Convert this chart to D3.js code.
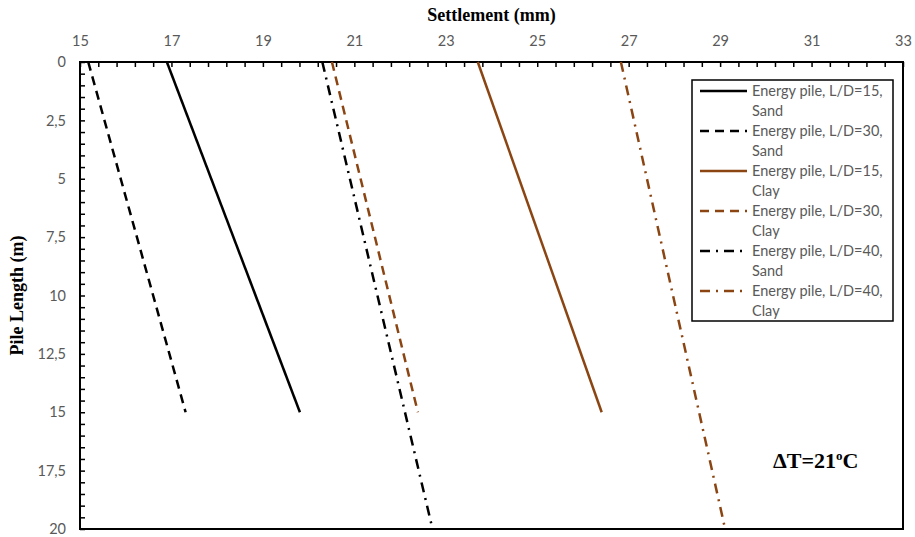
<!DOCTYPE html>
<html>
<head>
<meta charset="utf-8">
<script src="https://cdn.jsdelivr.net/npm/d3@7"></script>
<style>
  html, body { margin: 0; padding: 0; background: #fff; }
  svg { display: block; }
</style>
</head>
<body>
<svg id="chart" width="915" height="537"></svg>
<script>
// Settlement along the pile length for ΔT = 21 °C
const xTicks = [15, 17, 19, 21, 23, 25, 27, 29, 31, 33];
const yTicks = [0, 2.5, 5, 7.5, 10, 12.5, 15, 17.5, 20];
const yTickLabels = ["0", "2,5", "5", "7,5", "10", "12,5", "15", "17,5", "20"];

const seriesNames = [
  "Energy pile, L/D=15, Sand",
  "Energy pile, L/D=30, Sand",
  "Energy pile, L/D=15, Clay",
  "Energy pile, L/D=30, Clay",
  "Energy pile, L/D=40, Sand",
  "Energy pile, L/D=40, Clay"
];
// depth (m) of each series' points
const depthShort = [0, 15];
const depthLong = [0, 20];
// settlement (mm) at those depths
const sand15 = [16.90, 19.81];
const sand30 = [15.18, 17.31];
const clay15 = [23.70, 26.41];
const clay30 = [20.51, 22.39];
const sand40 = [20.30, 22.71];
const clay40 = [26.83, 29.11];

const black = "#000000", brown = "#8B4513";
const solid = null, dashed = "9,6", dashDot = "10,6,2,6";

const series = [
  { name: seriesNames[0], depth: depthShort, val: sand15, color: black, dash: solid },
  { name: seriesNames[1], depth: depthShort, val: sand30, color: black, dash: dashed },
  { name: seriesNames[2], depth: depthShort, val: clay15, color: brown, dash: solid },
  { name: seriesNames[3], depth: depthShort, val: clay30, color: brown, dash: dashed },
  { name: seriesNames[4], depth: depthLong,  val: sand40, color: black, dash: dashDot },
  { name: seriesNames[5], depth: depthLong,  val: clay40, color: brown, dash: dashDot }
];

const svg = d3.select("#chart");
const plot = { left: 80, right: 903, top: 62, bottom: 529 };

const x = d3.scaleLinear().domain([15, 33]).range([plot.left, plot.right]);
const y = d3.scaleLinear().domain([0, 20]).range([plot.top, plot.bottom]);

const tickFont = "Lato, 'Noto Sans', sans-serif";
const serif = "'Liberation Serif', 'Times New Roman', serif";
const gray = "#595959";

// minor ticks (inside the plot)
const xMinor = d3.range(15, 33.001, 0.4);
const yMinor = d3.range(0, 20.001, 0.5);

const gx = svg.append("g").attr("transform", `translate(0,${plot.top})`)
  .call(d3.axisTop(x).tickValues(xMinor).tickSize(-5).tickFormat(""));
gx.select(".domain").remove();
gx.selectAll("line").attr("stroke", "#000").attr("stroke-width", 1.5);

const gy = svg.append("g").attr("transform", `translate(${plot.left},0)`)
  .call(d3.axisLeft(y).tickValues(yMinor).tickSize(-5).tickFormat(""));
gy.select(".domain").remove();
gy.selectAll("line").attr("stroke", "#000").attr("stroke-width", 1.5);

// tick labels
const gxl = svg.append("g").attr("transform", `translate(0,${plot.top})`)
  .call(d3.axisTop(x).tickValues(xTicks).tickSize(0).tickPadding(16).tickFormat(d3.format("d")));
gxl.select(".domain").remove();
gxl.selectAll("text").attr("fill", gray).style("font-family", tickFont).style("font-size", "14.5px");

const gyl = svg.append("g").attr("transform", `translate(${plot.left},0)`)
  .call(d3.axisLeft(y).tickValues(yTicks).tickSize(0).tickPadding(14)
    .tickFormat((d, i) => yTickLabels[i]));
gyl.select(".domain").remove();
gyl.selectAll("text").attr("fill", gray).style("font-family", tickFont).style("font-size", "14.5px");

// plot frame
svg.append("rect")
  .attr("x", plot.left).attr("y", plot.top)
  .attr("width", plot.right - plot.left).attr("height", plot.bottom - plot.top)
  .attr("fill", "none").attr("stroke", "#000").attr("stroke-width", 2);

// series lines
const line = d3.line().x(d => x(d[1])).y(d => y(d[0]));
series.forEach(s => {
  svg.append("path")
    .datum(s.depth.map((dp, i) => [dp, s.val[i]]))
    .attr("d", line)
    .attr("fill", "none")
    .attr("stroke", s.color)
    .attr("stroke-width", 2.5)
    .attr("stroke-dasharray", s.dash);
});

// axis titles
svg.append("text")
  .attr("x", (plot.left + plot.right) / 2).attr("y", 21)
  .attr("text-anchor", "middle")
  .style("font-family", serif)
  .style("font-weight", "bold").style("font-size", "18px")
  .text("Settlement (mm)");

svg.append("text")
  .attr("transform", `translate(23,${(plot.top + plot.bottom) / 2}) rotate(-90)`)
  .attr("text-anchor", "middle")
  .style("font-family", serif)
  .style("font-weight", "bold").style("font-size", "18px")
  .text("Pile Length (m)");

// legend
const lg = svg.append("g");
lg.append("rect")
  .attr("x", 692).attr("y", 80).attr("width", 201).attr("height", 241)
  .attr("fill", "#fff").attr("stroke", "#000").attr("stroke-width", 1.5);
series.forEach((s, i) => {
  const cy = 91 + i * 40;
  lg.append("line")
    .attr("x1", 700).attr("x2", 747).attr("y1", cy).attr("y2", cy)
    .attr("stroke", s.color).attr("stroke-width", 2.5)
    .attr("stroke-dasharray", s.dash);
  const parts = s.name.split(", ");
  const t = lg.append("text")
    .attr("x", 752).attr("y", cy + 5)
    .attr("fill", gray)
    .style("font-family", tickFont).style("font-size", "14.5px");
  t.append("tspan").attr("x", 752).text(parts[0] + ", " + parts[1] + ",");
  t.append("tspan").attr("x", 752).attr("dy", 20).text(parts[2]);
});

// temperature annotation
const note = svg.append("text")
  .attr("x", 773).attr("y", 468)
  .style("font-family", serif)
  .style("font-weight", "bold").style("font-size", "22px");
note.append("tspan").text("ΔT=21");
note.append("tspan").attr("dy", -8).style("font-size", "13px").text("o");
note.append("tspan").attr("dy", 8).text("C");
</script>
</body>
</html>
